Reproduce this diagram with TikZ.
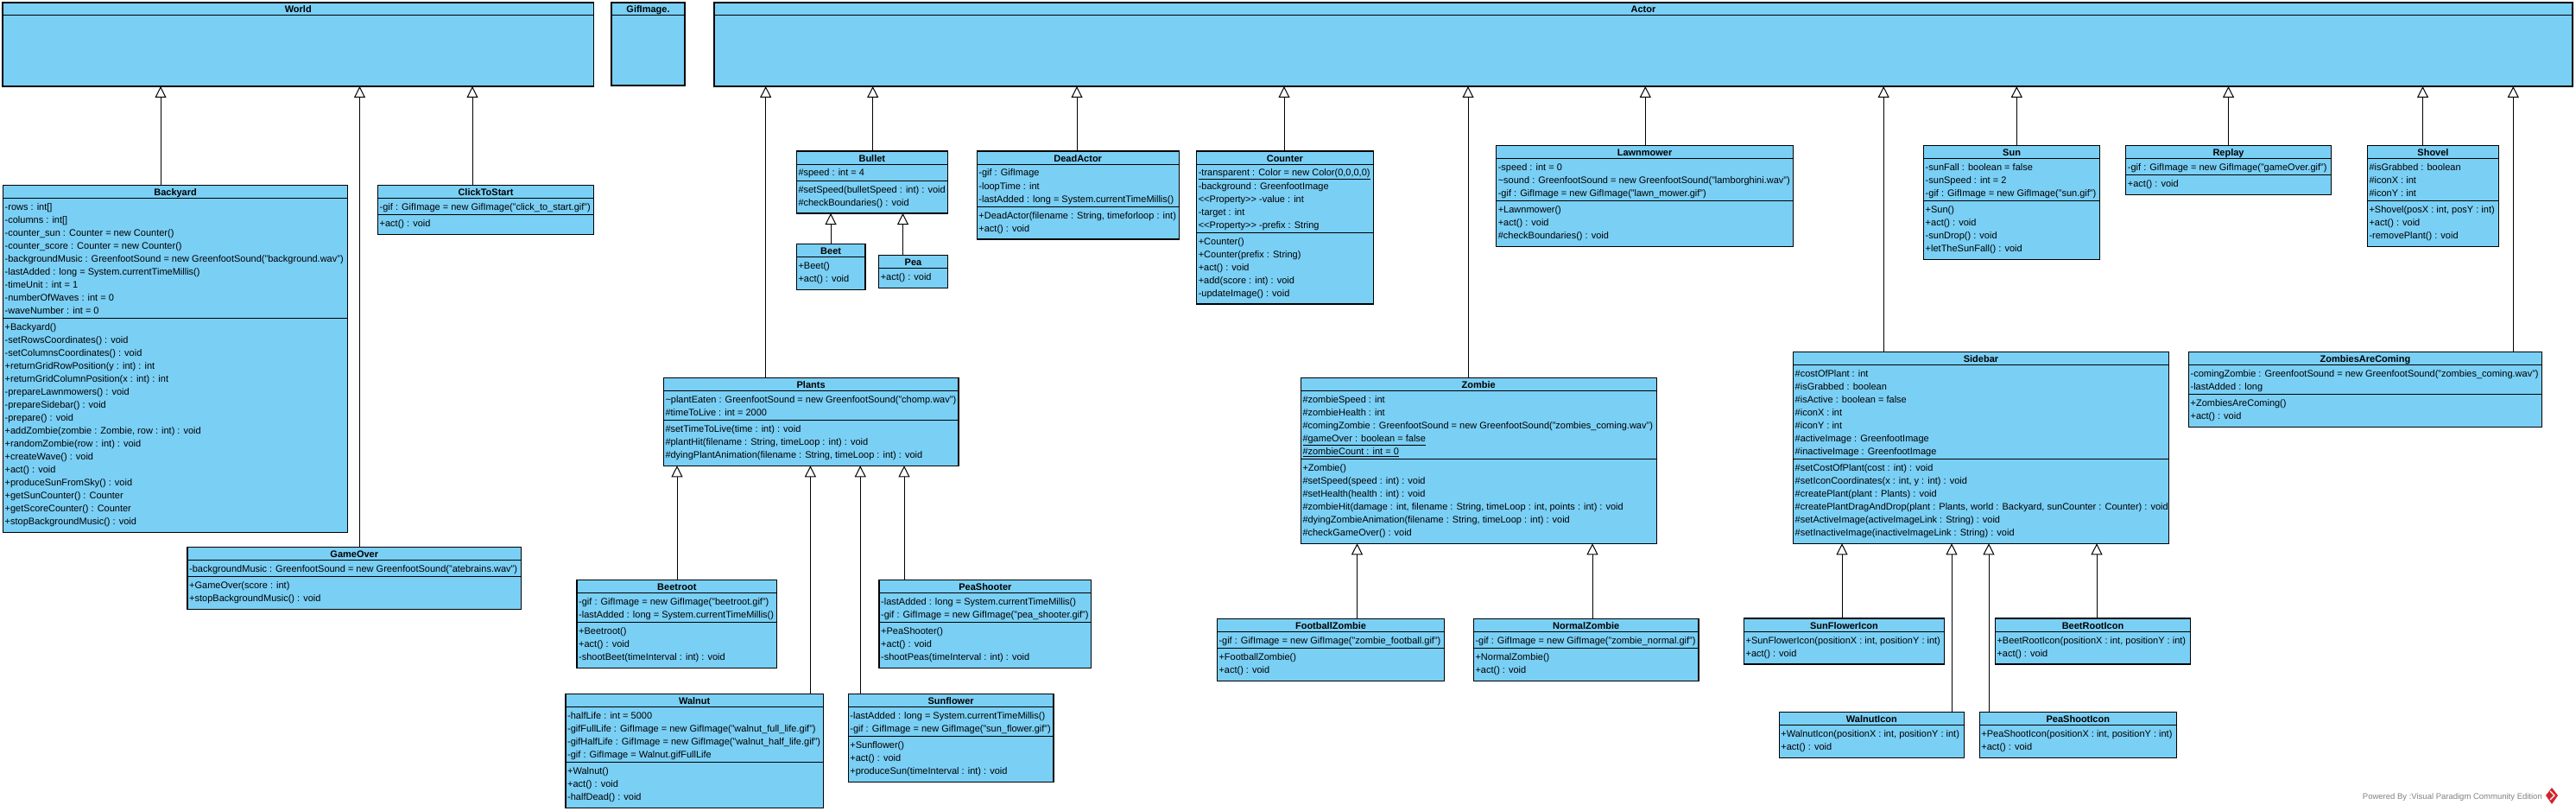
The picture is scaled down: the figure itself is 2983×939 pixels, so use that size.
\documentclass[tikz,border=0pt]{standalone}
\usepackage{fontspec}
\setmainfont{Liberation Sans}
\usetikzlibrary{arrows.meta}
\definecolor{clsfill}{RGB}{122,207,245}
\definecolor{wmgray}{RGB}{130,130,130}
\definecolor{vpred}{RGB}{210,35,45}
\newcommand\stp{<\kern0pt<Property>\kern0pt>}
\tikzset{
 clsbox/.style={draw=black, fill=clsfill, line width=1.2pt, rectangle, inner sep=0pt, outer sep=0pt, anchor=north west},
 sepline/.style={black, line width=1pt},
 gen/.style={black, line width=1pt, -{Triangle[width=13pt,length=13pt,fill=white]}},
 clstitle/.style={anchor=base, inner sep=0pt, font=\fontsize{11}{13}\selectfont\bfseries},
 clsline/.style={anchor=base west, inner sep=0pt, font=\fontsize{11}{13}\selectfont},
}
% name, x, y, width, title, #attrs, #methods, attrs, methods
\newcommand\umlclass[9]{%
 \pgfmathsetmacro\ctA{#3+15}%
 \pgfmathsetmacro\ctB{\ctA+ifthenelse(#6>0,#6*15+4,0)}%
 \pgfmathsetmacro\ctC{\ctB+#7*15+8}%
 \pgfmathsetmacro\ctH{\ctC-#3}%
 \node[clsbox, minimum width=#4pt, minimum height=\ctH pt] (#1) at (#2,#3) {};
 \draw[sepline] (#2,\ctA) -- ++(#4,0);
 \ifnum#6>0 \draw[sepline] (#2,\ctB) -- ++(#4,0);\fi
 \node[clstitle] at ({#2+#4/2},#3+12) {#5};
 \ifnum#6>0 \foreach \itm [count=\rowidx from 0] in {#8} {\node[clsline] at (#2+2,\ctA+14+15*\rowidx) {\itm};}\fi
 \foreach \itm [count=\rowidx from 0] in {#9} {\node[clsline] at (#2+2,\ctB+14+15*\rowidx) {\itm};}
}
% name, x1, y1, x2, y2, title
\newcommand\umlbig[6]{%
 \pgfmathsetmacro\ctW{#4-#2}%
 \pgfmathsetmacro\ctH{#5-#3}%
 \node[clsbox, minimum width=\ctW pt, minimum height=\ctH pt] (#1) at (#2,#3) {};
 \draw[sepline] (#2,#3+15) -- (#4,#3+15);
 \node[clstitle] at ({(#2+#4)/2},#3+12) {#6};
}
\begin{document}
\begin{tikzpicture}[x=1pt,y=-1pt]
\useasboundingbox (0,0) rectangle (2983,939);
\fill[white] (0,0) rectangle (2983,939);

\umlbig{World}{3}{3}{687.5}{100}{World}
\umlbig{GifImage}{708}{3}{793}{99}{GifImage.}
\umlbig{Actor}{827}{3}{2979}{100}{Actor}

\umlclass{Backyard}{3.5}{214.3}{399.2}{Backyard}{9}{16}
 {{-rows : int[]},{-columns : int[]},{-counter\_sun : Counter = new Counter()},{-counter\_score : Counter = new Counter()},{-backgroundMusic : GreenfootSound = new GreenfootSound("background.wav")},{-lastAdded : long = System.currentTimeMillis()},{-timeUnit : int = 1},{-numberOfWaves : int = 0},{-waveNumber : int = 0}}
 {{+Backyard()},{-setRowsCoordinates() : void},{-setColumnsCoordinates() : void},{+returnGridRowPosition(y : int) : int},{+returnGridColumnPosition(x : int) : int},{-prepareLawnmowers() : void},{-prepareSidebar() : void},{-prepare() : void},{+addZombie(zombie : Zombie, row : int) : void},{+randomZombie(row : int) : void},{+createWave() : void},{+act() : void},{+produceSunFromSky() : void},{+getSunCounter() : Counter},{+getScoreCounter() : Counter},{+stopBackgroundMusic() : void}}

\umlclass{ClickToStart}{437.5}{214.3}{250}{ClickToStart}{1}{1}
 {{-gif : GifImage = new GifImage("click\_to\_start.gif")}}
 {{+act() : void}}

\umlclass{GameOver}{217}{633.3}{386.6}{GameOver}{1}{2}
 {{-backgroundMusic : GreenfootSound = new GreenfootSound("atebrains.wav")}}
 {{+GameOver(score : int)},{+stopBackgroundMusic() : void}}

\umlclass{Plants}{768.3}{437.3}{341.7}{Plants}{2}{3}
 {{\textasciitilde plantEaten : GreenfootSound = new GreenfootSound("chomp.wav")},{\#timeToLive : int = 2000}}
 {{\#setTimeToLive(time : int) : void},{\#plantHit(filename : String, timeLoop : int) : void},{\#dyingPlantAnimation(filename : String, timeLoop : int) : void}}

\umlclass{Beetroot}{668}{671.7}{231.6}{Beetroot}{2}{3}
 {{-gif : GifImage = new GifImage("beetroot.gif")},{-lastAdded : long = System.currentTimeMillis()}}
 {{+Beetroot()},{+act() : void},{-shootBeet(timeInterval : int) : void}}

\umlclass{Walnut}{655}{803.3}{298.4}{Walnut}{4}{3}
 {{-halfLife : int = 5000},{-gifFullLife : GifImage = new GifImage("walnut\_full\_life.gif")},{-gifHalfLife : GifImage = new GifImage("walnut\_half\_life.gif")},{-gif : GifImage = Walnut.gifFullLife}}
 {{+Walnut()},{+act() : void},{-halfDead() : void}}

\umlclass{PeaShooter}{1018}{671.7}{245.8}{PeaShooter}{2}{3}
 {{-lastAdded : long = System.currentTimeMillis()},{-gif : GifImage = new GifImage("pea\_shooter.gif")}}
 {{+PeaShooter()},{+act() : void},{-shootPeas(timeInterval : int) : void}}

\umlclass{Sunflower}{982.2}{803.3}{237.8}{Sunflower}{2}{3}
 {{-lastAdded : long = System.currentTimeMillis()},{-gif : GifImage = new GifImage("sun\_flower.gif")}}
 {{+Sunflower()},{+act() : void},{+produceSun(timeInterval : int) : void}}

\umlclass{Bullet}{922.3}{175}{175.1}{Bullet}{1}{2}
 {{\#speed : int = 4}}
 {{\#setSpeed(bulletSpeed : int) : void},{\#checkBoundaries() : void}}

\umlclass{Beet}{922.3}{282.3}{79.7}{Beet}{0}{2}
 {}
 {{+Beet()},{+act() : void}}

\umlclass{Pea}{1017.6}{295.7}{79.8}{Pea}{0}{1}
 {}
 {{+act() : void}}

\umlclass{DeadActor}{1131.2}{175}{234}{DeadActor}{3}{2}
 {{-gif : GifImage},{-loopTime : int},{-lastAdded : long = System.currentTimeMillis()}}
 {{+DeadActor(filename : String, timeforloop : int)},{+act() : void}}

\umlclass{Counter}{1385.6}{175}{204.6}{Counter}{5}{5}
 {{\underline{-transparent : Color = new Color(0,0,0,0)}},{-background : GreenfootImage},{\stp{} -value : int},{-target : int},{\stp{} -prefix : String}}
 {{+Counter()},{+Counter(prefix : String)},{+act() : void},{+add(score : int) : void},{-updateImage() : void}}

\umlclass{Lawnmower}{1732.6}{168.3}{343.9}{Lawnmower}{3}{3}
 {{-speed : int = 0},{\textasciitilde sound : GreenfootSound = new GreenfootSound("lamborghini.wav")},{-gif : GifImage = new GifImage("lawn\_mower.gif")}}
 {{+Lawnmower()},{+act() : void},{\#checkBoundaries() : void}}

\umlclass{Zombie}{1506.3}{437.3}{411.8}{Zombie}{5}{6}
 {{\#zombieSpeed : int},{\#zombieHealth : int},{\#comingZombie : GreenfootSound = new GreenfootSound("zombies\_coming.wav")},{\underline{\#gameOver : boolean = false}},{\underline{\#zombieCount : int = 0}}}
 {{+Zombie()},{\#setSpeed(speed : int) : void},{\#setHealth(health : int) : void},{\#zombieHit(damage : int, filename : String, timeLoop : int, points : int) : void},{\#dyingZombieAnimation(filename : String, timeLoop : int) : void},{\#checkGameOver() : void}}

\umlclass{FootballZombie}{1409.3}{716.7}{263.4}{FootballZombie}{1}{2}
 {{-gif : GifImage = new GifImage("zombie\_football.gif")}}
 {{+FootballZombie()},{+act() : void}}

\umlclass{NormalZombie}{1706.3}{716.7}{260.7}{NormalZombie}{1}{2}
 {{-gif : GifImage = new GifImage("zombie\_normal.gif")}}
 {{+NormalZombie()},{+act() : void}}

\umlclass{Sun}{2227.5}{168.3}{204.2}{Sun}{3}{4}
 {{-sunFall : boolean = false},{-sunSpeed : int = 2},{-gif : GifImage = new GifImage("sun.gif")}}
 {{+Sun()},{+act() : void},{-sunDrop() : void},{+letTheSunFall() : void}}

\umlclass{Replay}{2461.7}{168.3}{237.7}{Replay}{1}{1}
 {{-gif : GifImage = new GifImage("gameOver.gif")}}
 {{+act() : void}}

\umlclass{Shovel}{2741.3}{168.3}{152.3}{Shovel}{3}{3}
 {{\#isGrabbed : boolean},{\#iconX : int},{\#iconY : int}}
 {{+Shovel(posX : int, posY : int)},{+act() : void},{-removePlant() : void}}

\umlclass{Sidebar}{2076.5}{407.3}{434.9}{Sidebar}{7}{6}
 {{\#costOfPlant : int},{\#isGrabbed : boolean},{\#isActive : boolean = false},{\#iconX : int},{\#iconY : int},{\#activeImage : GreenfootImage},{\#inactiveImage : GreenfootImage}}
 {{\#setCostOfPlant(cost : int) : void},{\#setIconCoordinates(x : int, y : int) : void},{\#createPlant(plant : Plants) : void},{\#createPlantDragAndDrop(plant : Plants, world : Backyard, sunCounter : Counter) : void},{\#setActiveImage(activeImageLink : String) : void},{\#setInactiveImage(inactiveImageLink : String) : void}}

\umlclass{ZombiesAreComing}{2534.4}{407.3}{409.1}{ZombiesAreComing}{2}{2}
 {{-comingZombie : GreenfootSound = new GreenfootSound("zombies\_coming.wav")},{-lastAdded : long}}
 {{+ZombiesAreComing()},{+act() : void}}

\umlclass{SunFlowerIcon}{2019.4}{716}{232}{SunFlowerIcon}{0}{2}
 {}
 {{+SunFlowerIcon(positionX : int, positionY : int)},{+act() : void}}

\umlclass{BeetRootIcon}{2310.3}{716}{226.4}{BeetRootIcon}{0}{2}
 {}
 {{+BeetRootIcon(positionX : int, positionY : int)},{+act() : void}}

\umlclass{WalnutIcon}{2060.2}{824.3}{214.4}{WalnutIcon}{0}{2}
 {}
 {{+WalnutIcon(positionX : int, positionY : int)},{+act() : void}}

\umlclass{PeaShootIcon}{2292.2}{824.3}{228.2}{PeaShootIcon}{0}{2}
 {}
 {{+PeaShootIcon(positionX : int, positionY : int)},{+act() : void}}

% generalizations to World
\draw[gen] (Backyard.north -| 186,0) -- (World.south -| 186,0);
\draw[gen] (GameOver.north -| 416.5,0) -- (World.south -| 416.5,0);
\draw[gen] (ClickToStart.north -| 547,0) -- (World.south -| 547,0);
% generalizations to Actor
\draw[gen] (Plants.north -| 886.7,0) -- (Actor.south -| 886.7,0);
\draw[gen] (Bullet.north -| 1010.7,0) -- (Actor.south -| 1010.7,0);
\draw[gen] (DeadActor.north -| 1247,0) -- (Actor.south -| 1247,0);
\draw[gen] (Counter.north -| 1487,0) -- (Actor.south -| 1487,0);
\draw[gen] (Zombie.north -| 1700,0) -- (Actor.south -| 1700,0);
\draw[gen] (Lawnmower.north -| 1905.3,0) -- (Actor.south -| 1905.3,0);
\draw[gen] (Sidebar.north -| 2181.2,0) -- (Actor.south -| 2181.2,0);
\draw[gen] (Sun.north -| 2335.3,0) -- (Actor.south -| 2335.3,0);
\draw[gen] (Replay.north -| 2580.5,0) -- (Actor.south -| 2580.5,0);
\draw[gen] (Shovel.north -| 2805.5,0) -- (Actor.south -| 2805.5,0);
\draw[gen] (ZombiesAreComing.north -| 2910.3,0) -- (Actor.south -| 2910.3,0);
% Bullet children
\draw[gen] (Beet.north -| 962,0) -- (Bullet.south -| 962,0);
\draw[gen] (Pea.north -| 1045.5,0) -- (Bullet.south -| 1045.5,0);
% Plants children
\draw[gen] (Beetroot.north -| 784,0) -- (Plants.south -| 784,0);
\draw[gen] (Walnut.north -| 938.4,0) -- (Plants.south -| 938.4,0);
\draw[gen] (Sunflower.north -| 996.2,0) -- (Plants.south -| 996.2,0);
\draw[gen] (PeaShooter.north -| 1047,0) -- (Plants.south -| 1047,0);
% Zombie children
\draw[gen] (FootballZombie.north -| 1571.5,0) -- (Zombie.south -| 1571.5,0);
\draw[gen] (NormalZombie.north -| 1844,0) -- (Zombie.south -| 1844,0);
% Sidebar children
\draw[gen] (SunFlowerIcon.north -| 2133,0) -- (Sidebar.south -| 2133,0);
\draw[gen] (WalnutIcon.north -| 2260,0) -- (Sidebar.south -| 2260,0);
\draw[gen] (PeaShootIcon.north -| 2303,0) -- (Sidebar.south -| 2303,0);
\draw[gen] (BeetRootIcon.north -| 2428,0) -- (Sidebar.south -| 2428,0);

% watermark
\node[anchor=base east, inner sep=0pt, font=\fontsize{9.5}{11}\selectfont, text=wmgray] (wm) at (2944,925) {Powered By :Visual Paradigm Community Edition};
\fill[vpred] (2955,912) -- (2962,921) -- (2955,931) -- (2948,921) -- cycle;
\draw[white, line width=1.2pt] (2953,916) -- (2958,921) -- (2953,926);
\end{tikzpicture}
\end{document}
